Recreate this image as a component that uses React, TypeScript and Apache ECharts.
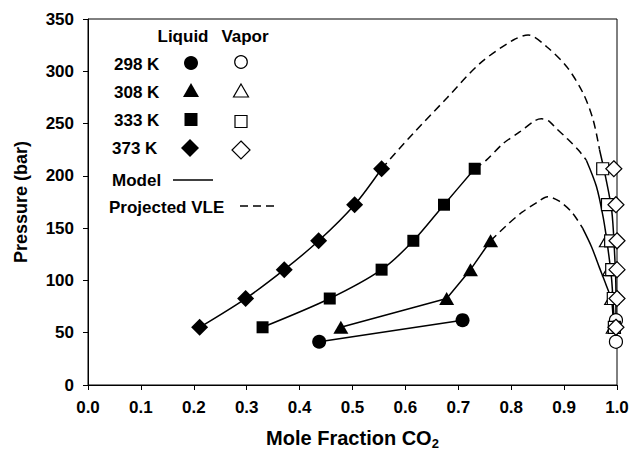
import React, { useEffect, useRef } from "react";
import * as echarts from "echarts";

// Pressures (bar)
const pressures298 = [41.4, 62.0];
const pressures308 = [55.2, 82.7, 110.3, 137.9];
const pressures333 = [55.2, 82.7, 110.3, 137.9, 172.4, 206.8];
const pressures373 = [55.2, 82.7, 110.3, 137.9, 172.4, 206.8];

// Liquid-phase mole fraction CO2
const liquid298 = [0.437, 0.708];
const liquid308 = [0.478, 0.678, 0.723, 0.761];
const liquid333 = [0.330, 0.457, 0.555, 0.615, 0.673, 0.731];
const liquid373 = [0.211, 0.298, 0.371, 0.436, 0.504, 0.555];

// Vapor-phase mole fraction CO2
const vapor298 = [0.998, 0.998];
const vapor308 = [0.993, 0.990, 0.986, 0.980];
const vapor333 = [0.995, 0.993, 0.990, 0.988, 0.982, 0.973];
const vapor373 = [0.998, 1.0, 1.0, 1.0, 0.998, 0.994];

// Projected VLE (dashed) curves
const proj308X = [0.761, 0.79, 0.82, 0.85, 0.869, 0.89, 0.915, 0.935];
const proj308P = [137.9, 152, 165, 175, 180, 176, 165, 150];
const proj333X = [0.731, 0.753, 0.785, 0.816, 0.845, 0.857, 0.87, 0.886, 0.905, 0.927, 0.942];
const proj333P = [206.8, 215, 231, 242, 252.8, 254.5, 252.8, 245, 236, 224.7, 215];
const proj373X = [0.555, 0.615, 0.678, 0.741, 0.804, 0.832, 0.867, 0.905, 0.936, 0.955, 0.967];
const proj373P = [206.8, 240.7, 274.2, 307.6, 329.9, 334.7, 323.5, 304.4, 279, 253.4, 225];

// Model vapor branch curves (solid)
const vmod308X = [0.935, 0.952, 0.967, 0.98, 0.99, 0.993];
const vmod308P = [150, 132, 112, 95, 80, 55.2];
const vmod333X = [0.942, 0.961, 0.974, 0.983, 0.99, 0.995];
const vmod333P = [215, 190, 160, 130, 100, 55.2];
const vmod373X = [0.967, 0.978, 0.99, 0.995, 0.998, 0.998];
const vmod373P = [225, 200, 167, 130, 90, 55.2];

const FONT = '"Liberation Sans", Arial, sans-serif';

const pairs = (xs: number[], ys: number[]) => xs.map((x, i) => [x, ys[i]]);

export default function App() {
  const ref = useRef<HTMLDivElement>(null);

  useEffect(() => {
    if (!ref.current) return;
    const chart = echarts.init(ref.current, undefined, { renderer: "svg" });

    const solid = (xs: number[], ys: number[], smooth: number | boolean) => ({
      type: "line",
      data: pairs(xs, ys),
      showSymbol: false,
      symbol: "none",
      smooth,
      z: 2,
      lineStyle: { color: "#000", width: 1.5, opacity: 1 },
      silent: true,
    });
    const dashed = (xs: number[], ys: number[]) => ({
      type: "line",
      data: pairs(xs, ys),
      showSymbol: false,
      symbol: "none",
      smooth: 0.3,
      z: 2,
      lineStyle: { color: "#000", width: 1.5, type: [8, 5], opacity: 1 },
      silent: true,
    });
    const liq = (xs: number[], ys: number[], symbol: string, size: any) => ({
      type: "scatter",
      data: pairs(xs, ys),
      symbol,
      symbolSize: size,
      z: 4,
      itemStyle: { color: "#000", opacity: 1 },
    });
    const vap = (xs: number[], ys: number[], symbol: string, size: any) => ({
      type: "scatter",
      data: pairs(xs, ys),
      symbol,
      symbolSize: size,
      z: 4,
      itemStyle: { color: "#fff", borderColor: "#000", borderWidth: 1.2, opacity: 1 },
    });

    const t = (text: string, x: number, y: number, align = "left") => ({
      type: "text",
      x,
      y,
      z: 10,
      style: {
        text,
        font: `bold 17px ${FONT}`,
        fill: "#000",
        align,
        verticalAlign: "middle",
      },
    });

    const lx = 191;
    const vx = 241;
    const graphic: any[] = [
      { type: "rect", shape: { x: 100, y: 22, width: 190, height: 200 }, style: { fill: "#fff" }, z: 9 },
      t("Liquid", 183, 36, "center"),
      t("Vapor", 245, 36, "center"),
      t("298 K", 114, 64),
      t("308 K", 114, 92),
      t("333 K", 114, 120),
      t("373 K", 112, 148),
      t("Model", 112, 180),
      t("Projected VLE", 109, 207),
      // liquid markers
      { type: "circle", z: 10, shape: { cx: lx, cy: 63, r: 7 }, style: { fill: "#000" } },
      { type: "polygon", z: 10, shape: { points: [[lx, 83], [lx + 8, 97], [lx - 8, 97]] }, style: { fill: "#000" } },
      { type: "rect", z: 10, shape: { x: lx - 6.5, y: 113, width: 13, height: 13 }, style: { fill: "#000" } },
      { type: "polygon", z: 10, shape: { points: [[lx - 1, 139], [lx + 8, 148], [lx - 1, 157], [lx - 10, 148]] }, style: { fill: "#000" } },
      // vapor markers
      { type: "circle", z: 10, shape: { cx: vx, cy: 62, r: 6.3 }, style: { fill: "#fff", stroke: "#000", lineWidth: 1.2 } },
      { type: "polygon", z: 10, shape: { points: [[vx, 84], [vx + 7.5, 97], [vx - 7.5, 97]] }, style: { fill: "#fff", stroke: "#000", lineWidth: 1.2 } },
      { type: "rect", z: 10, shape: { x: vx - 6, y: 115.5, width: 12, height: 12 }, style: { fill: "#fff", stroke: "#000", lineWidth: 1.2 } },
      { type: "polygon", z: 10, shape: { points: [[vx, 141], [vx + 9, 150], [vx, 159], [vx - 9, 150]] }, style: { fill: "#fff", stroke: "#000", lineWidth: 1.2 } },
      // model / projected lines
      { type: "line", z: 10, shape: { x1: 173, y1: 180, x2: 213, y2: 180 }, style: { stroke: "#000", lineWidth: 1.3 } },
      { type: "line", z: 10, shape: { x1: 240, y1: 206, x2: 277, y2: 206 }, style: { stroke: "#000", lineWidth: 1.5, lineDash: [8, 5] } },
    ];

    chart.setOption({
      animation: false,
      backgroundColor: "#fff",
      grid: {
        left: 88,
        right: 16,
        top: 19,
        bottom: 69,
        show: true,
        borderColor: "#000",
        borderWidth: 1,
        outerBoundsMode: "none",
      },
      xAxis: {
        type: "value",
        min: 0,
        max: 1,
        interval: 0.1,
        name: "Mole Fraction CO{sub|2}",
        nameLocation: "middle",
        nameGap: 40,
        nameTextStyle: {
          color: "#000",
          fontFamily: FONT,
          fontWeight: "bold",
          fontSize: 20,
          rich: {
            sub: { fontSize: 13, fontWeight: "bold", fontFamily: FONT, color: "#000", verticalAlign: "bottom", padding: [12, 0, 0, 0] },
          },
        },
        axisLine: { show: true, lineStyle: { color: "#000", width: 1 } },
        axisTick: { show: true, inside: false, length: 5, lineStyle: { color: "#000" } },
        splitLine: { show: false },
        axisLabel: {
          color: "#000",
          fontFamily: FONT,
          fontWeight: "bold",
          fontSize: 17,
          margin: 14,
          formatter: (v: number) => v.toFixed(1),
        },
      },
      yAxis: {
        type: "value",
        min: 0,
        max: 350,
        interval: 50,
        name: "Pressure (bar)",
        nameLocation: "middle",
        nameGap: 58,
        nameTextStyle: { color: "#000", fontFamily: FONT, fontWeight: "bold", fontSize: 18 },
        axisLine: { show: true, lineStyle: { color: "#000", width: 1 } },
        axisTick: { show: true, inside: false, length: 5, lineStyle: { color: "#000" } },
        splitLine: { show: false },
        axisLabel: { color: "#000", fontFamily: FONT, fontWeight: "bold", fontSize: 17, margin: 14 },
      },
      graphic,
      series: [
        solid(liquid298, pressures298, false),
        solid(liquid308, pressures308, false),
        solid(liquid333, pressures333, 0.3),
        solid(liquid373, pressures373, 0.3),
        dashed(proj308X, proj308P),
        dashed(proj333X, proj333P),
        dashed(proj373X, proj373P),
        solid(vmod308X, vmod308P, 0.3),
        solid(vmod333X, vmod333P, 0.3),
        solid(vmod373X, vmod373P, 0.3),
        solid(vapor298, pressures298, false),
        liq(liquid298, pressures298, "circle", 14),
        liq(liquid308, pressures308, "triangle", [15, 13]),
        liq(liquid333, pressures333, "rect", 12),
        liq(liquid373, pressures373, "diamond", 17),
        vap(vapor298, pressures298, "circle", 13),
        vap(vapor308, pressures308, "triangle", [14, 12]),
        vap(vapor333, pressures333, "rect", 12),
        vap(vapor373, pressures373, "diamond", 16),
      ],
    });

    return () => chart.dispose();
  }, []);

  return (
    <div
      ref={ref}
      style={{ position: "fixed", left: 0, top: 0, width: 633, height: 454, background: "#fff" }}
    />
  );
}
